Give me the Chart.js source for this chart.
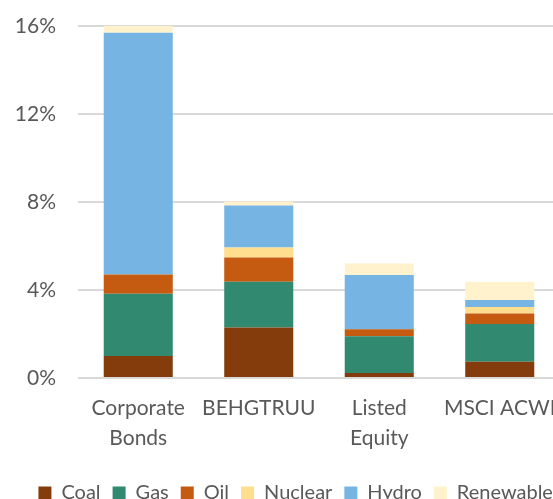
<!DOCTYPE html>
<html>
<head>
<meta charset="utf-8">
<script src="https://cdn.jsdelivr.net/npm/chart.js@4/dist/chart.umd.min.js"></script>
<style>
  html, body { margin: 0; padding: 0; background: #fff; overflow: hidden; }
  #wrap { width: 600px; height: 513px; }
</style>
</head>
<body>
<div id="wrap"><canvas id="chart" width="600" height="513"></canvas></div>
<script>
// categories and series (% of portfolio)
const categories = [['Corporate', 'Bonds'], 'BEHGTRUU', ['Listed', 'Equity'], 'MSCI ACWI'];
const coal = [1.0, 2.3, 0.23, 0.74];
const gas = [2.83, 2.07, 1.67, 1.72];
const oil = [0.87, 1.11, 0.32, 0.47];
const nuclear = [0, 0.45, 0, 0.30];
const hydro = [10.99, 1.91, 2.46, 0.32];
const renewables = [0.31, 0.18, 0.52, 0.83];
const yTicks = [0, 4, 8, 12, 16];

const textColor = '#595959';
const fontFamily = 'Lato, "Liberation Sans", sans-serif';

const makeSet = (label, data, color) => ({
    label: label,
    data: data,
    backgroundColor: color,
    borderWidth: 0,
    barPercentage: 0.573,
    categoryPercentage: 1.0
});

new Chart(document.getElementById('chart').getContext('2d'), {
    type: 'bar',
    data: {
        labels: categories,
        datasets: [
            makeSet('Coal', coal, '#843c0c'),
            makeSet('Gas', gas, '#318a70'),
            makeSet('Oil', oil, '#c55a11'),
            makeSet('Nuclear', nuclear, '#ffdf8f'),
            makeSet('Hydro', hydro, '#75b4e3'),
            makeSet('Renewables', renewables, '#fff2cc')
        ]
    },
    options: {
        responsive: false,
        animation: false,
        layout: { padding: { top: 26, right: 0, left: 0, bottom: 0 } },
        plugins: {
            legend: {
                position: 'bottom',
                labels: {
                    boxWidth: 13,
                    boxHeight: 13,
                    padding: 12,
                    color: textColor,
                    font: { family: fontFamily, size: 20 }
                }
            },
            tooltip: { enabled: false }
        },
        scales: {
            x: {
                stacked: true,
                grid: { display: false, drawTicks: false },
                border: { display: false },
                ticks: {
                    color: textColor,
                    padding: 15,
                    maxRotation: 0,
                    font: { family: fontFamily, size: 21, lineHeight: 1.43 }
                },
                afterFit: s => { s.height = 93; }
            },
            y: {
                stacked: true,
                min: 0,
                max: 16,
                afterBuildTicks: s => { s.ticks = yTicks.map(v => ({ value: v })); },
                grid: { color: '#d9d9d9', lineWidth: 2, drawTicks: false },
                border: { display: false },
                ticks: {
                    color: textColor,
                    padding: 22,
                    font: { family: fontFamily, size: 21 },
                    callback: v => v + '%'
                },
                afterFit: s => { s.width = 78; s.paddingTop = 0; s.paddingBottom = 0; }
            },
            // empty right axis, only keeps the plot area ending at 560px
            yRight: {
                position: 'right',
                grid: { display: false, drawTicks: false },
                border: { display: false },
                ticks: { display: false },
                afterFit: s => { s.width = 40; s.paddingTop = 0; s.paddingBottom = 0; }
            }
        }
    }
});
</script>
</body>
</html>
